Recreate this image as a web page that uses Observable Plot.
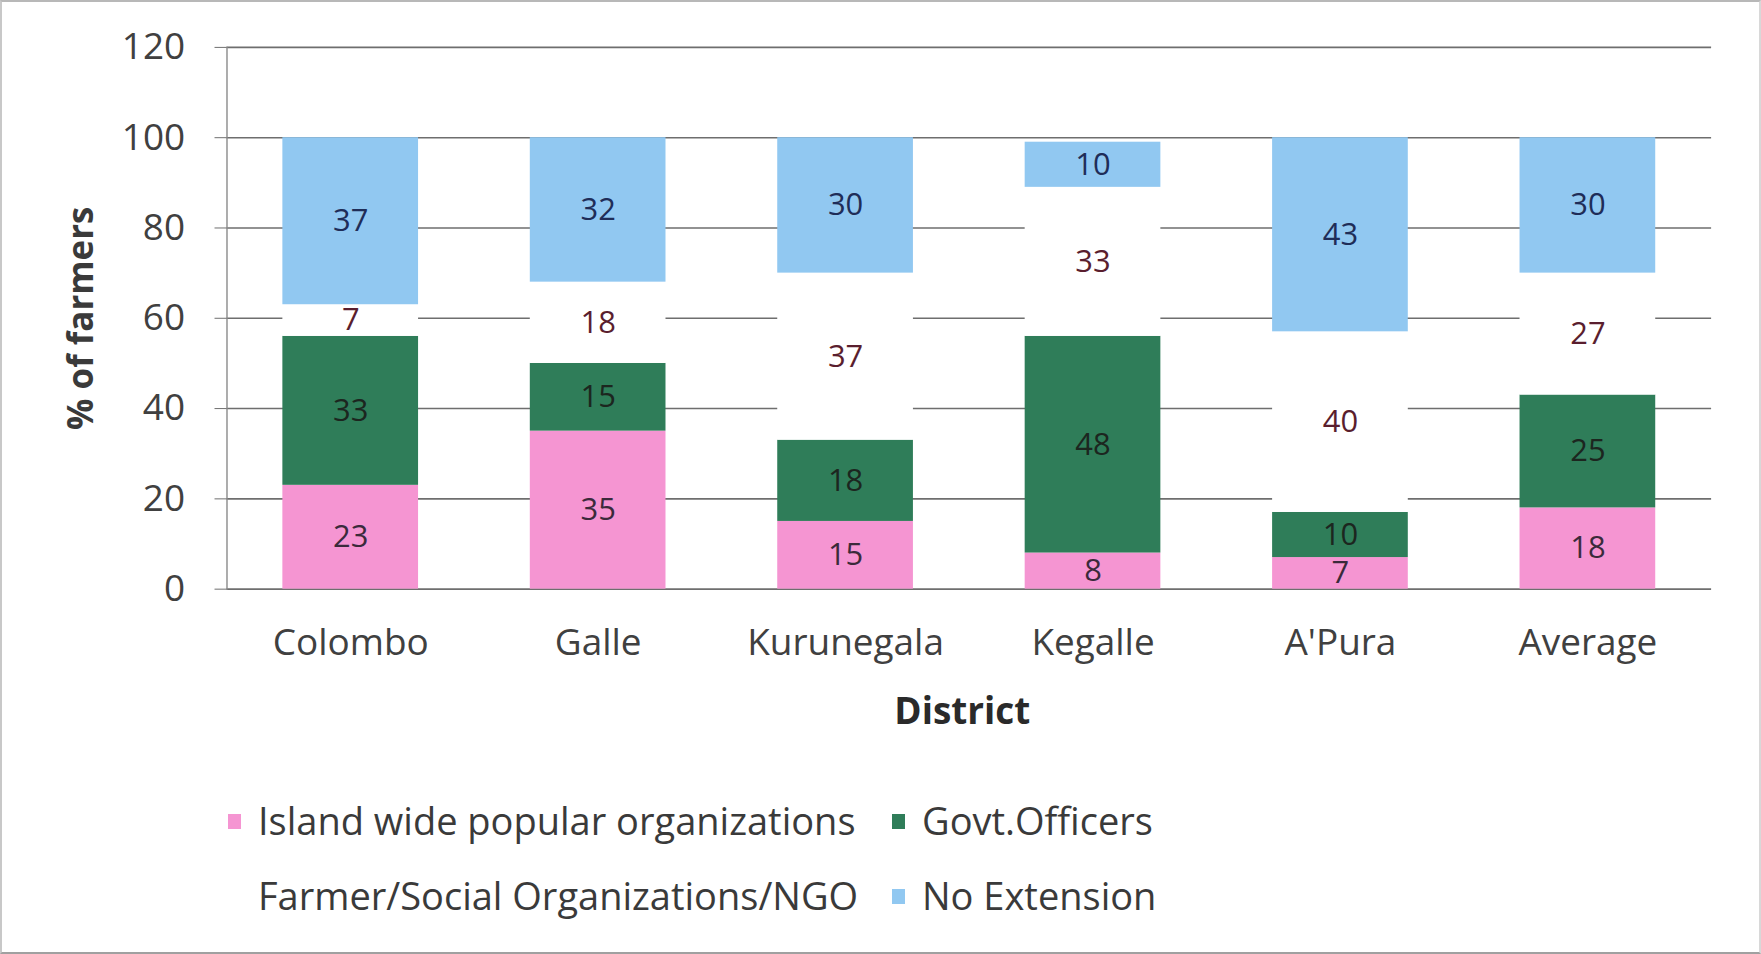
<!DOCTYPE html>
<html>
<head>
<meta charset="utf-8">
<script src="https://cdn.jsdelivr.net/npm/d3@7"></script>
<script src="https://cdn.jsdelivr.net/npm/@observablehq/plot@0.6"></script>
<style>
  html, body { margin: 0; padding: 0; background: #fff; }
  #wrap { position: relative; width: 1761px; height: 954px; box-sizing: border-box;
          border-top: 2px solid #b8b8b8; border-left: 2px solid #c8c8c8; border-bottom: 2px solid #a0a0a0; border-right: 2px solid #d8d8d8;
          font-family: "Open Sans", sans-serif; overflow: hidden; }
  #chart { position: absolute; left: 0; top: 0; }
  .leg { position: absolute; font-size: 38px; color: #3a3a3a; white-space: nowrap; line-height: 44px; }
  .sw { position: absolute; width: 13px; height: 15px; }
</style>
</head>
<body>
<div id="wrap">
  <div id="chart"></div>
  <div id="legend"></div>
</div>
<script>
const districts = ["Colombo", "Galle", "Kurunegala", "Kegalle", "A'Pura", "Average"];
const seriesNames = ["Island wide popular organizations", "Govt.Officers", "Farmer/Social Organizations/NGO", "No Extension"];
const islandWide = [23, 35, 15, 8, 7, 18];
const govtOfficers = [33, 15, 18, 48, 10, 25];
const farmerNGO = [7, 18, 37, 33, 40, 27];
const noExtension = [37, 32, 30, 10, 43, 30];
const yTicks = [0, 20, 40, 60, 80, 100, 120];
const seriesColors = ["#f595d2", "#2f7d59", "#ffffff", "#91c8f1"];
const labelColors = ["#3b2a3b", "#1c261f", "#5a1e2e", "#1f2d58"];

const seriesValues = [islandWide, govtOfficers, farmerNGO, noExtension];
const rows = [];
seriesNames.forEach((s, si) => {
  districts.forEach((d, di) => {
    rows.push({district: d, series: s, value: seriesValues[si][di], si});
  });
});

const W = 1761, H = 760;
const chart = Plot.plot({
  width: W,
  height: H,
  marginLeft: 225,
  marginRight: 48,
  marginTop: 45,
  marginBottom: 172,
  style: {fontFamily: "'Open Sans', sans-serif", background: "transparent", color: "#404040"},
  x: {domain: districts, paddingInner: 0.45, paddingOuter: 0.225, label: null},
  y: {domain: [0, 120], label: null},
  color: {domain: seriesNames, range: seriesColors},
  marks: [
    Plot.gridY(yTicks, {stroke: "#6e6e6e", strokeOpacity: 1, strokeWidth: 1.6}),
    Plot.frame({anchor: "left", stroke: "#8a8a8a", strokeWidth: 1.4}),
    Plot.axisY({ticks: yTicks, tickSize: 12, tickPadding: 30, fontSize: 37, label: null, stroke: "#6e6e6e"}),
    Plot.axisX({tickSize: 0, tickPadding: 40, fontSize: 37, label: null}),
    Plot.barY(rows, Plot.stackY({x: "district", y: "value", fill: "series", order: seriesNames})),
    Plot.text(rows, Plot.stackY({x: "district", y: "value", z: "series", order: seriesNames,
      text: d => String(d.value), fill: d => labelColors[d.si], fontSize: 31})),
    Plot.text(["% of farmers"], {frameAnchor: "left", textAnchor: "middle", lineAnchor: "middle", rotate: -90, dx: -146, fontSize: 35, fontWeight: "bold", fill: "#3a3a3a"}),
    Plot.text(["District"], {frameAnchor: "bottom", lineAnchor: "middle", dx: -7, dy: 123, fontSize: 37, fontWeight: "bold", fill: "#2a2a2a"})
  ]
});
document.getElementById("chart").appendChild(chart);

// Legend (two rows, Excel style)
const legendPos = [
  {x: 226, y: 820}, {x: 890, y: 820},
  {x: 226, y: 895}, {x: 890, y: 895}
];
const legend = document.getElementById("legend");
seriesNames.forEach((s, i) => {
  const p = legendPos[i];
  const sw = document.createElement("div");
  sw.className = "sw";
  sw.style.left = p.x + "px";
  sw.style.top = (p.y - 8) + "px";
  sw.style.background = seriesColors[i];
  legend.appendChild(sw);
  const t = document.createElement("div");
  t.className = "leg";
  t.style.left = (p.x + 30) + "px";
  t.style.top = (p.y - 24) + "px";
  t.textContent = s;
  legend.appendChild(t);
});
</script>
</body>
</html>
